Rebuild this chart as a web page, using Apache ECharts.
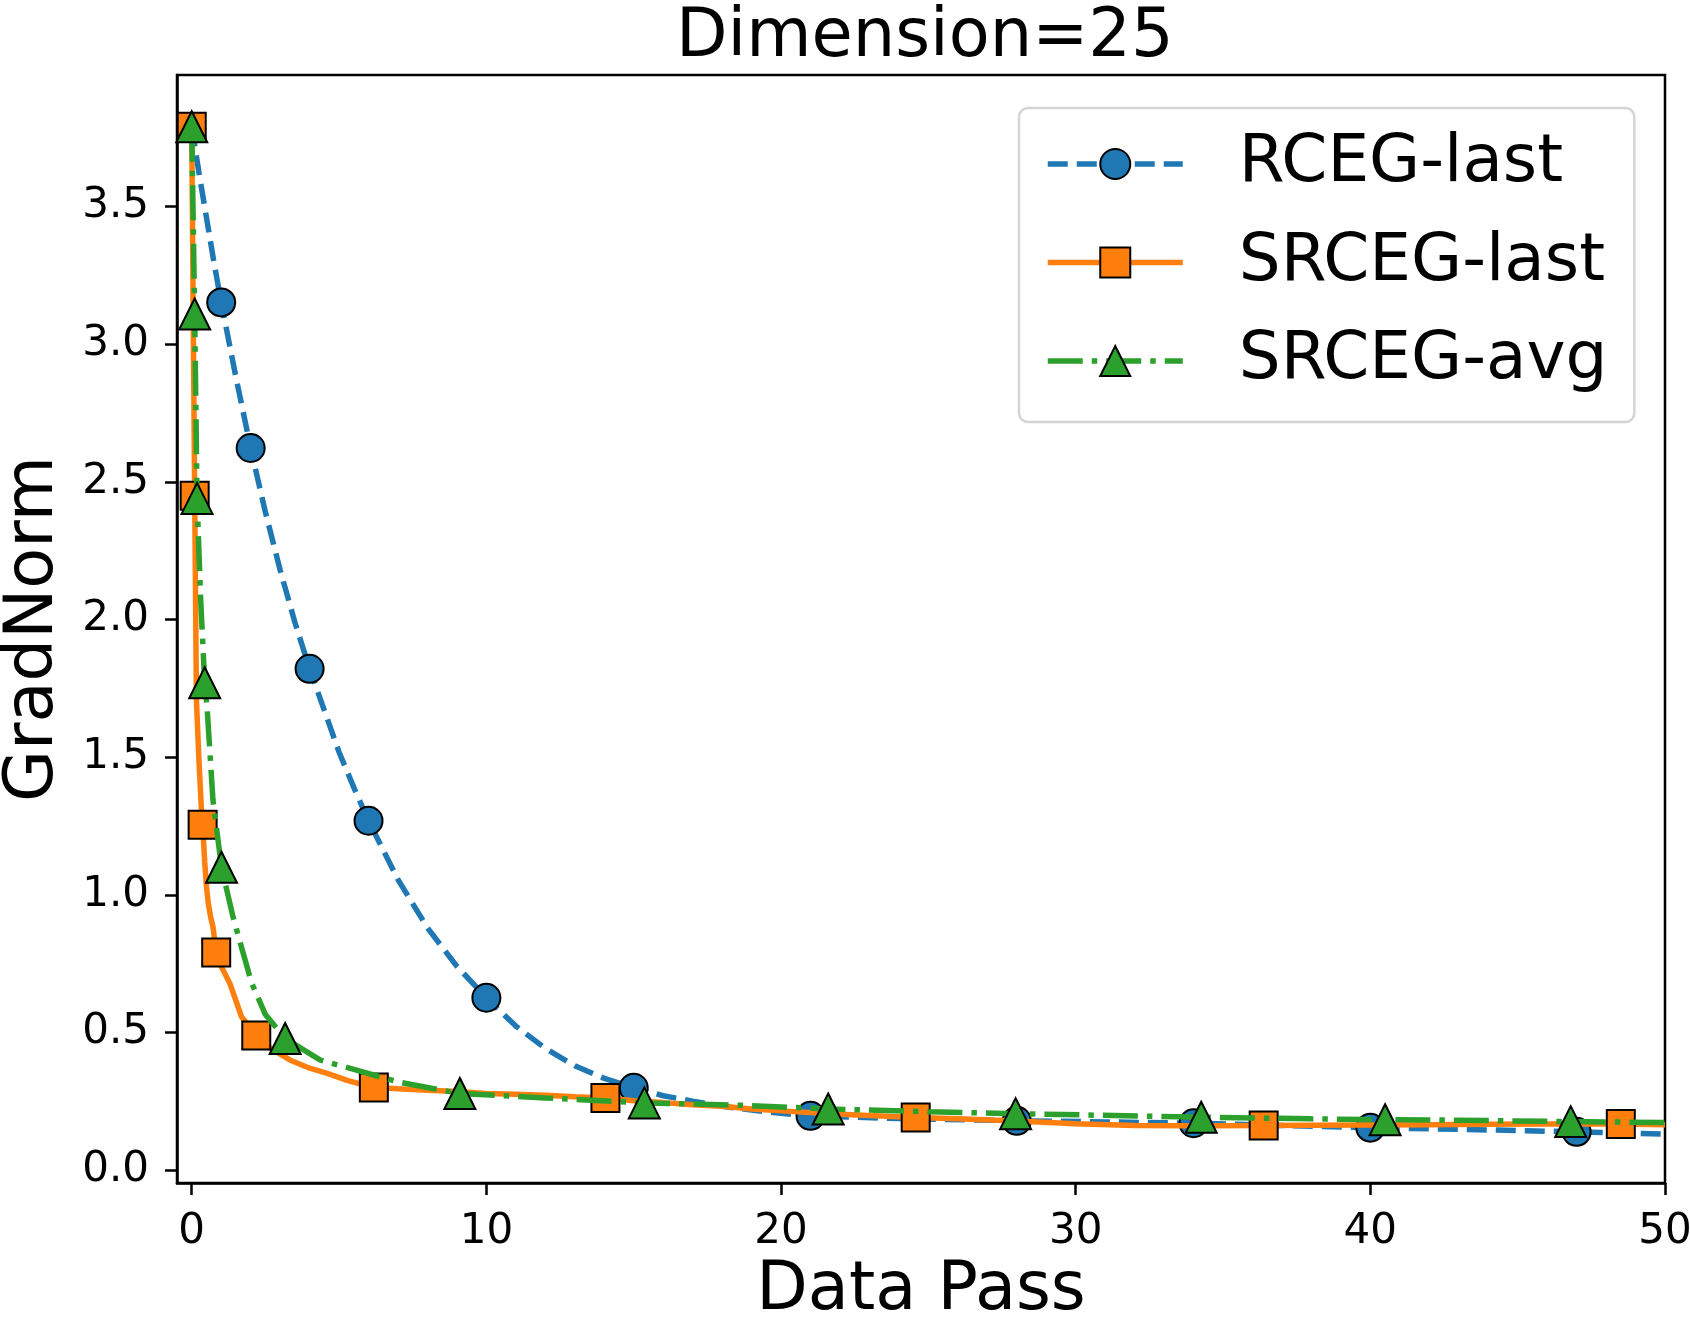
<!DOCTYPE html>
<html>
<head>
<meta charset="utf-8">
<title>Dimension=25</title>
<script src="https://cdn.jsdelivr.net/npm/echarts@6.0.0/dist/echarts.min.js"></script>
<style>
  html, body { margin: 0; padding: 0; background: #fff; }
  #chart { width: 1690px; height: 1322px; }
</style>
</head>
<body>
<div id="chart"></div>
<script>
// tick labels
const xTicks = [0, 10, 20, 30, 40, 50];
const yTicks = [0, 0.5, 1.0, 1.5, 2.0, 2.5, 3.0, 3.5];

// RCEG-last (blue, dashed, circles)
const rcegX = [0, 0.25, 0.5, 0.75, 1, 1.5, 2, 2.5, 3, 3.5, 4, 4.5, 5, 5.5, 6, 7, 8, 9, 10, 11, 12, 13, 14, 15, 16, 17, 18, 19, 20, 21, 24, 28, 31, 34, 37, 40, 43, 47, 50];
const rcegY = [3.79, 3.62, 3.46, 3.30, 3.152, 2.88, 2.623, 2.39, 2.18, 1.99, 1.821, 1.67, 1.518, 1.39, 1.269, 1.055, 0.88, 0.74, 0.626, 0.523, 0.442, 0.379, 0.333, 0.299, 0.27, 0.25, 0.232, 0.218, 0.206, 0.197, 0.187, 0.179, 0.175, 0.17, 0.162, 0.154, 0.148, 0.139, 0.131];
const rcegMarks = [1, 2, 4, 6, 10, 15, 21, 28, 34, 40, 47];

// SRCEG-last (orange, solid, squares)
const srcegLastX = [0, 0.05, 0.1, 0.16, 0.24, 0.33, 0.37, 0.44, 0.5, 0.56, 0.64, 0.72, 0.83, 1.0, 1.29, 1.69, 2.19, 2.7, 3.33, 4.0, 4.57, 5.3, 6.18, 7, 8, 9, 10, 11, 12, 13, 14.04, 15, 16, 17, 18, 19, 20, 22, 24.57, 26, 28, 30, 32, 34, 36.38, 38, 40, 42, 44, 46, 48.5, 50];
const srcegLastY = [3.79, 3.1, 2.45, 1.707, 1.5, 1.307, 1.254, 1.12, 1.03, 0.97, 0.92, 0.884, 0.79, 0.74, 0.679, 0.557, 0.489, 0.44, 0.40, 0.37, 0.352, 0.325, 0.30, 0.295, 0.29, 0.285, 0.278, 0.275, 0.272, 0.266, 0.262, 0.252, 0.245, 0.237, 0.232, 0.222, 0.215, 0.203, 0.191, 0.186, 0.178, 0.168, 0.162, 0.161, 0.162, 0.163, 0.164, 0.165, 0.166, 0.167, 0.167, 0.165];
const srcegLastMarks = [0, 0.1, 0.37, 0.83, 2.19, 6.18, 14.04, 24.57, 36.38, 48.5];

// SRCEG-avg (green, dash-dot, triangles)
const srcegAvgX = [0, 0.05, 0.1, 0.18, 0.3, 0.44, 0.52, 0.72, 1.01, 1.4, 2.03, 2.5, 3.17, 4.35, 5.59, 7, 9.1, 12, 15.36, 18.5, 21.6, 25, 27.96, 30.4, 34.26, 38, 40.5, 42.2, 46.8, 50];
const srcegAvgY = [3.79, 3.45, 3.11, 2.44, 2.08, 1.77, 1.683, 1.344, 1.10, 0.92, 0.68, 0.565, 0.478, 0.40, 0.363, 0.32, 0.278, 0.262, 0.244, 0.236, 0.222, 0.212, 0.205, 0.2, 0.192, 0.186, 0.183, 0.182, 0.176, 0.173];
const srcegAvgMarks = [0, 0.1, 0.18, 0.44, 1.01, 3.17, 9.1, 15.36, 21.6, 27.96, 34.26, 40.5, 46.8];

const FONT = 'DejaVu Sans';

// points with a marker keep the series symbol, the rest get none
function buildData(xs, ys, marks) {
  return xs.map((x, i) => {
    if (marks.indexOf(x) >= 0) return { value: [x, ys[i]] };
    return { value: [x, ys[i]], symbol: 'none' };
  });
}

const chart = echarts.init(document.getElementById('chart'), null, { renderer: 'canvas' });

chart.setOption({
  animation: false,
  backgroundColor: '#fff',
  title: {
    text: 'Dimension=25',
    left: 671,
    top: 0,
    textStyle: { fontFamily: FONT, fontSize: 67, fontWeight: 'normal', color: '#000' }
  },
  grid: {
    left: 177, top: 75, width: 1488, height: 1108,
    show: true, borderColor: '#000', borderWidth: 2.5,
    containLabel: false,
    outerBoundsMode: 'none'
  },
  legend: {
    orient: 'vertical',
    left: 1019,
    top: 108,
    padding: [10.5, 27, 15.5, 26],
    itemWidth: 135,
    itemHeight: 37.5,
    itemGap: 7.5,
    selectedMode: false,
    backgroundColor: '#fff',
    borderColor: '#d4d4d4',
    borderWidth: 2.5,
    borderRadius: 9,
    lineStyle: { width: 5.5 },
    textStyle: { fontFamily: FONT, fontSize: 66, color: '#000', lineHeight: 66, padding: [25, 0, 0, 51] },
    data: ['RCEG-last', 'SRCEG-last', 'SRCEG-avg']
  },
  xAxis: {
    type: 'value',
    min: -0.5,
    max: 50,
    name: 'Data Pass',
    nameLocation: 'middle',
    nameGap: 74,
    nameTextStyle: { fontFamily: FONT, fontSize: 67, color: '#000' },
    axisLine: { show: true, onZero: false, lineStyle: { color: '#000', width: 2.5 } },
    axisTick: { show: true, length: 12, lineStyle: { color: '#000', width: 2.5 }, customValues: xTicks },
    axisLabel: {
      fontFamily: FONT, fontSize: 42, color: '#000', margin: 28,
      customValues: xTicks,
      formatter: v => String(v)
    },
    splitLine: { show: false }
  },
  yAxis: {
    type: 'value',
    min: -0.047,
    max: 3.978,
    name: 'GradNorm',
    nameLocation: 'middle',
    nameGap: 109,
    nameTextStyle: { fontFamily: FONT, fontSize: 67, color: '#000' },
    axisLine: { show: true, onZero: false, lineStyle: { color: '#000', width: 2.5 } },
    axisTick: { show: true, length: 12, lineStyle: { color: '#000', width: 2.5 }, customValues: yTicks },
    axisLabel: {
      fontFamily: FONT, fontSize: 42, color: '#000', margin: 28,
      customValues: yTicks,
      formatter: v => v.toFixed(1)
    },
    splitLine: { show: false }
  },
  series: [
    {
      name: 'RCEG-last',
      type: 'line',
      z: 2,
      data: buildData(rcegX, rcegY, rcegMarks),
      symbol: 'circle',
      symbolSize: 28,
      showSymbol: true,
      lineStyle: { color: '#1f77b4', width: 5.5, type: [20, 9] },
      itemStyle: { color: '#1f77b4', borderColor: '#000', borderWidth: 2 }
    },
    {
      name: 'SRCEG-last',
      type: 'line',
      z: 3,
      data: buildData(srcegLastX, srcegLastY, srcegLastMarks),
      symbol: 'rect',
      symbolSize: 28,
      showSymbol: true,
      lineStyle: { color: '#ff7f0e', width: 5.5, type: 'solid' },
      itemStyle: { color: '#ff7f0e', borderColor: '#000', borderWidth: 2 }
    },
    {
      name: 'SRCEG-avg',
      type: 'line',
      z: 4,
      data: buildData(srcegAvgX, srcegAvgY, srcegAvgMarks),
      symbol: 'triangle',
      symbolSize: 31,
      showSymbol: true,
      lineStyle: { color: '#2ca02c', width: 5.5, type: [35, 9, 5.5, 9] },
      itemStyle: { color: '#2ca02c', borderColor: '#000', borderWidth: 2 }
    }
  ]
});
</script>
</body>
</html>
